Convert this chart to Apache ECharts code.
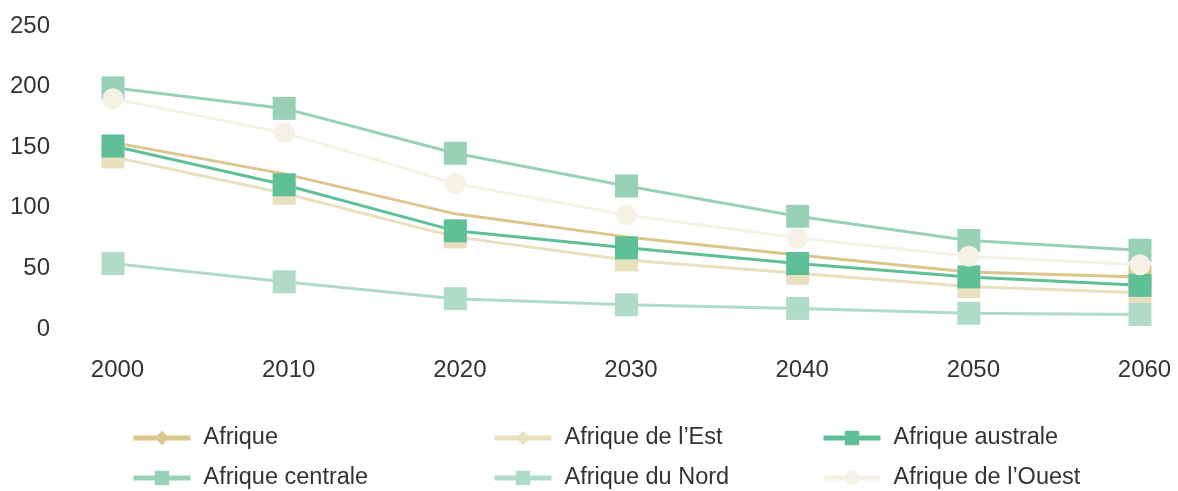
<!DOCTYPE html>
<html>
<head>
<meta charset="utf-8">
<script src="https://cdn.jsdelivr.net/npm/echarts@6/dist/echarts.min.js"></script>
<style>
html,body{margin:0;padding:0;background:#fff;}
#c{width:1178px;height:491px;}
</style>
</head>
<body>
<div id="c"></div>
<script>
const years = ['2000','2010','2020','2030','2040','2050','2060'];
const yTicks = [0, 50, 100, 150, 200, 250];
const afrique   = [154, 128, 95, 76, 61, 47, 43];
const afriqueEst = [142, 112, 76, 57, 46, 35, 30];
const afriqueAustrale = [151, 119, 81, 67, 54, 43, 36];
const afriqueCentrale = [199, 182, 145, 118, 93, 73, 65];
const afriqueNord = [54, 39, 25, 20, 17, 13, 12];
const afriqueOuest = [190, 162, 120, 94, 75, 60, 53];
const names = ['Afrique', 'Afrique de l\u2019Est', 'Afrique australe', 'Afrique centrale', 'Afrique du Nord', 'Afrique de l\u2019Ouest'];
const colors = ['#dcc68e', '#e9e0c0', '#5fbf96', '#99d1b7', '#b0dbc8', '#f5f1e5'];

const FONT = "'Helvetica Neue', 'Liberation Sans', Arial, sans-serif";
const TXT = '#333333';

function mk(name, color, data, seriesSymbol, size, itemData) {
  return {
    name: name,
    type: 'line',
    data: itemData || data,
    symbol: seriesSymbol,
    symbolSize: size,
    showSymbol: true,
    lineStyle: { color: color, width: 3 },
    itemStyle: { color: color },
    emphasis: { disabled: true }
  };
}

const series = [
  mk(names[0], colors[0], afrique, 'diamond', 23,
     afrique.map((v, i) => ({ value: v, symbol: i === afrique.length - 1 ? 'rect' : 'none' }))),
  mk(names[1], colors[1], afriqueEst, 'diamond', 23,
     afriqueEst.map(v => ({ value: v, symbol: 'rect' }))),
  mk(names[2], colors[2], afriqueAustrale, 'rect', 23),
  mk(names[3], colors[3], afriqueCentrale, 'rect', 23),
  mk(names[4], colors[4], afriqueNord, 'rect', 23),
  mk(names[5], colors[5], afriqueOuest, 'circle', 21)
];

function legendItem(left, top, name) {
  return {
    orient: 'horizontal',
    left: left,
    top: top,
    padding: 0,
    itemWidth: 57,
    itemHeight: 18,
    data: [name],
    selectedMode: false,
    lineStyle: { width: 5 },
    textStyle: { fontSize: 23.5, color: TXT, fontFamily: FONT, padding: [0, 0, 0, 8] }
  };
}

const chart = echarts.init(document.getElementById('c'));
chart.setOption({
  animation: false,
  backgroundColor: '#ffffff',
  grid: { left: 113, right: 38, top: 26, bottom: 491 - 329 },
  xAxis: {
    type: 'category',
    data: years,
    boundaryGap: false,
    axisLine: { show: false },
    axisTick: { show: false },
    splitLine: { show: false },
    axisLabel: { fontSize: 24, color: TXT, fontFamily: FONT, margin: 29, padding: [0, 0, 0, 9] }
  },
  yAxis: {
    type: 'value',
    min: yTicks[0],
    max: yTicks[yTicks.length - 1],
    interval: 50,
    axisLine: { show: false },
    axisTick: { show: false },
    splitLine: { show: false },
    axisLabel: { fontSize: 24, color: TXT, fontFamily: FONT, margin: 63, padding: [4, 0, 0, 0] }
  },
  legend: [
    legendItem(131, 426, names[0]),
    legendItem(131, 466, names[3]),
    legendItem(492, 426, names[1]),
    legendItem(492, 466, names[4]),
    legendItem(821, 426, names[2]),
    legendItem(821, 466, names[5])
  ],
  series: series
});
</script>
</body>
</html>
